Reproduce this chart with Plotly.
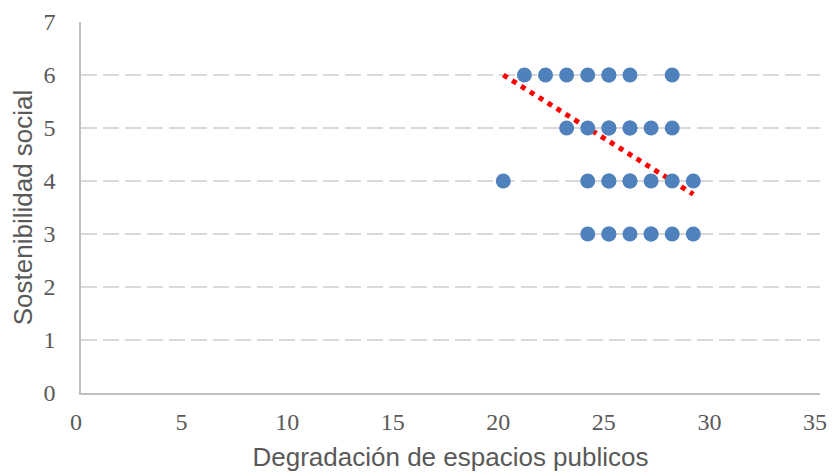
import plotly.graph_objects as go

# Observed points (x = degradation score, y = social sustainability score)
deg_x = [21, 22, 23, 24, 25, 25, 26, 28,
         23, 24, 25, 25, 26, 26, 27, 28,
         20, 24, 25, 25, 26, 26, 27, 28, 29,
         24, 25, 25, 26, 27, 27, 28, 29]
sost_y = [6, 6, 6, 6, 6, 6, 6, 6,
          5, 5, 5, 5, 5, 5, 5, 5,
          4, 4, 4, 4, 4, 4, 4, 4, 4,
          3, 3, 3, 3, 3, 3, 3, 3]

# Linear trend line end points
trend_x = [20, 29]
trend_y = [6.0, 3.75]

x_ticks = [0, 5, 10, 15, 20, 25, 30, 35]
y_ticks = [0, 1, 2, 3, 4, 5, 6, 7]

BLUE = '#4F81BD'
GRID = '#D9D9D9'
AXIS = '#BFBFBF'
TEXT = '#595959'
serif = 'Liberation Serif, DejaVu Serif, serif'
sans = 'Liberation Sans, Arial, sans-serif'

fig = go.Figure()

fig.add_trace(go.Scatter(
    x=trend_x, y=trend_y,
    mode='lines',
    line=dict(color='#FF0000', width=5, dash='5px,5.5px'),
    hoverinfo='skip',
    showlegend=False
))

fig.add_trace(go.Scatter(
    x=deg_x, y=sost_y,
    mode='markers',
    marker=dict(color=BLUE, size=15, line=dict(width=0)),
    showlegend=False
))

# page body has an 8px margin, so the figure is drawn 8px in from the corner
fig.update_layout(
    width=828, height=464,
    plot_bgcolor='white', paper_bgcolor='white',
    margin=dict(l=73, r=16, t=14, b=79),
    font=dict(family=sans, color=TEXT),
    xaxis=dict(
        range=[0, 35], tickvals=x_ticks,
        showgrid=False, zeroline=False,
        showline=True, linecolor=AXIS, linewidth=1.5,
        ticks='', ticklen=0, ticklabelstandoff=6,
        ticklabelshift=-5,  # keeps the last label ("35") inside the page
        ticklabeloverflow='allow',
        automargin=False,
        tickfont=dict(family=serif, size=24, color=TEXT),
        title=dict(text='Degradación de espacios publicos',
                   font=dict(family=sans, size=26, color=TEXT),
                   standoff=15),
    ),
    yaxis=dict(
        range=[0, 7], tickvals=y_ticks,
        showgrid=True, gridcolor=GRID, gridwidth=1.5, griddash='16px,6px',
        zeroline=False,
        showline=True, linecolor=AXIS, linewidth=1.5,
        ticks='', ticklen=0, ticklabelstandoff=19,
        automargin=False,
        tickfont=dict(family=serif, size=24, color=TEXT),
        title=dict(text='Sostenibilidad social',
                   font=dict(family=sans, size=26, color=TEXT),
                   standoff=4),
    ),
)

fig.write_html('out.html')
